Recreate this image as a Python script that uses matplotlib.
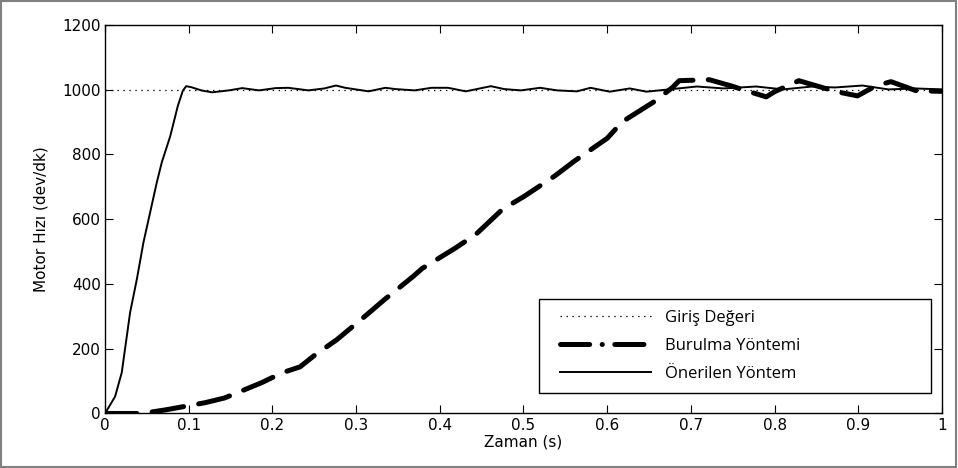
import matplotlib
matplotlib.use('Agg')
import matplotlib.pyplot as plt
from matplotlib.lines import Line2D
from matplotlib.patches import Rectangle
from matplotlib.legend_handler import HandlerLine2D

plt.rcParams['font.family'] = ['DejaVu Sans']
plt.rcParams['lines.scale_dashes'] = False

# Reference input (set point)
ref_t = [0.0, 1.0]
ref_speed = [1000, 1000]

# Burulma (torsion) method response
bur_t = [0.0, 0.044, 0.072, 0.119, 0.143, 0.187, 0.212, 0.233, 0.251, 0.277,
         0.310, 0.334, 0.368, 0.379, 0.418, 0.443, 0.475, 0.501, 0.537, 0.561,
         0.600, 0.618, 0.656, 0.678, 0.686, 0.722, 0.748, 0.766, 0.790, 0.800,
         0.829, 0.850, 0.874, 0.899, 0.921, 0.939, 0.969, 1.0]
bur_speed = [0, 0, 11, 33, 48, 95, 126, 144, 181, 228,
             299, 352, 423, 448, 510, 553, 631, 671, 733, 780,
             850, 901, 963, 1007, 1028, 1031, 1012, 997, 978, 994,
             1028, 1012, 994, 981, 1012, 1025, 997, 995]

# Proposed method response
prop_t = [0.0, 0.012, 0.020, 0.030, 0.038, 0.046, 0.054, 0.062, 0.068, 0.078,
          0.087, 0.093, 0.097, 0.103, 0.115, 0.128, 0.148, 0.164, 0.184, 0.204,
          0.219, 0.243, 0.262, 0.276, 0.287, 0.315, 0.335, 0.347, 0.370, 0.390,
          0.410, 0.431, 0.461, 0.477, 0.497, 0.520, 0.540, 0.564, 0.580, 0.603,
          0.627, 0.647, 0.670, 0.707, 0.739, 0.778, 0.810, 0.845, 0.872, 0.905,
          0.936, 0.968, 1.0]
prop_speed = [0, 52, 126, 312, 414, 529, 622, 715, 777, 857,
              950, 997, 1011, 1008, 998, 992, 998, 1005, 998, 1005,
              1006, 998, 1004, 1013, 1006, 995, 1006, 1002, 998, 1006,
              1006, 995, 1011, 1002, 998, 1006, 998, 995, 1006, 994,
              1004, 994, 1000, 1010, 1004, 1010, 1001, 1010, 1007, 1013,
              1001, 1004, 1001]

labels = ['Giriş Değeri', 'Burulma Yöntemi', 'Önerilen Yöntem']

fig = plt.figure(figsize=(9.58, 4.68), dpi=100)
fig.patches.append(Rectangle((0.001, 0.002), 0.997, 0.996, transform=fig.transFigure,
                             fill=False, edgecolor='#808080', linewidth=1.5))
ax = fig.add_axes([0.1096, 0.1165, 0.8737, 0.8301])

ax.plot(ref_t, ref_speed, color='black', linewidth=0.9, dashes=(1.0, 3.3))
ax.plot(bur_t, bur_speed, color='black', linewidth=3.6, dashes=(23, 11),
        dash_capstyle='round', solid_capstyle='round', dash_joinstyle='round')
ax.plot(prop_t, prop_speed, color='black', linewidth=1.4)

ax.set_xlim(0, 1)
ax.set_ylim(0, 1200)
ax.set_xticks([0, 0.1, 0.2, 0.3, 0.4, 0.5, 0.6, 0.7, 0.8, 0.9, 1])
ax.set_xticklabels(['0', '0.1', '0.2', '0.3', '0.4', '0.5', '0.6', '0.7', '0.8', '0.9', '1'])
ax.set_yticks(range(0, 1201, 200))
ax.tick_params(direction='in', length=6, width=0.8, labelsize=11,
               top=True, right=True, pad=3)
for s in ax.spines.values():
    s.set_linewidth(1.0)
ax.set_xlabel('Zaman (s)', fontsize=11, labelpad=1)
ax.set_ylabel('Motor Hızı (dev/dk)', fontsize=11, labelpad=10)

handles = [
    Line2D([], [], color='black', linewidth=0.9, dashes=(1.0, 3.3)),
    Line2D([], [], color='black', linewidth=3.6, dashes=(21, 9, 0.1, 9),
           dash_capstyle='round'),
    Line2D([], [], color='black', linewidth=1.4),
]
leg = ax.legend(handles, labels, loc='lower left',
                bbox_to_anchor=(0.519, 0.052, 0.468, 0.24), mode='expand',
                borderaxespad=0, fancybox=False, framealpha=1, edgecolor='black',
                handlelength=6.0, handletextpad=0.84, borderpad=0.7,
                labelspacing=0.7, prop={'family': 'Open Sans', 'size': 12},
                handler_map={Line2D: HandlerLine2D(xpad=0.54)})
leg.get_frame().set_linewidth(1.0)

fig.savefig('out.png', dpi=100)
